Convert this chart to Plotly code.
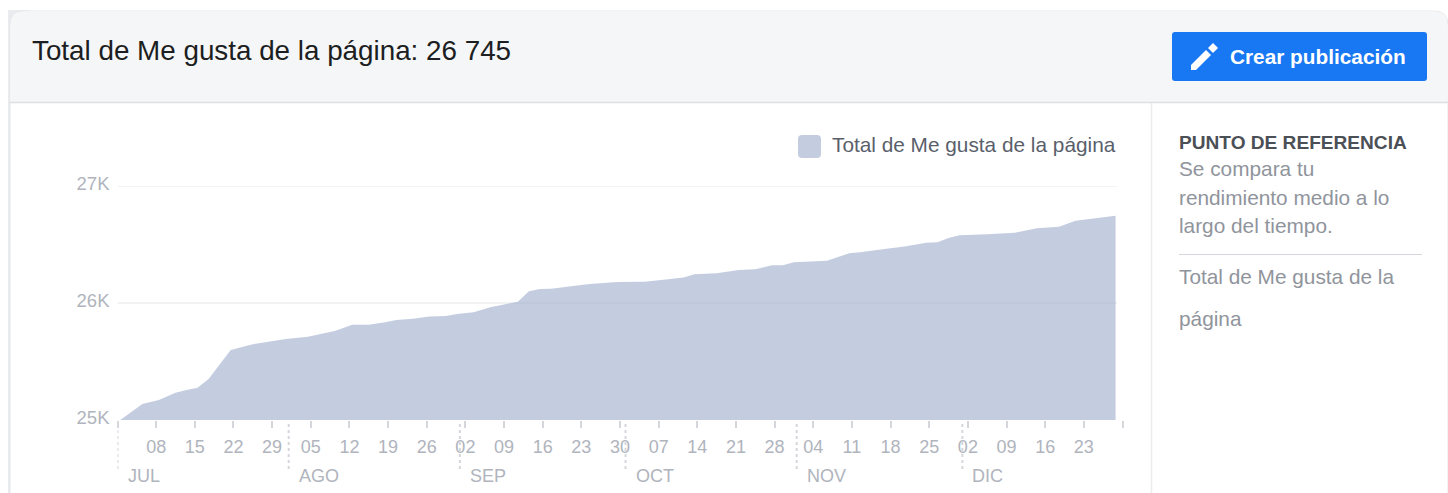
import plotly.graph_objects as go

W, H = 1448, 493

# ---- data ----
dates = ["2019-07-01","2019-07-05","2019-07-08","2019-07-10","2019-07-11","2019-07-13","2019-07-15","2019-07-17",
         "2019-07-21","2019-07-25","2019-07-31","2019-08-04","2019-08-06","2019-08-09","2019-08-10","2019-08-12",
         "2019-08-15","2019-08-18","2019-08-20","2019-08-23","2019-08-26","2019-08-29","2019-08-31","2019-09-02",
         "2019-09-03","2019-09-06","2019-09-09","2019-09-11","2019-09-13","2019-09-15","2019-09-17","2019-09-21",
         "2019-09-24","2019-09-29","2019-10-04","2019-10-09","2019-10-11","2019-10-13","2019-10-17","2019-10-21",
         "2019-10-24","2019-10-27","2019-10-29","2019-10-31","2019-11-06","2019-11-10","2019-11-12","2019-11-15",
         "2019-11-20","2019-11-24","2019-11-26","2019-11-28","2019-11-30","2019-12-05","2019-12-10","2019-12-14",
         "2019-12-18","2019-12-21","2019-12-24","2019-12-28 18:00"]
likes = [25000,25137,25171,25216,25233,25256,25276,25350,
         25598,25647,25692,25712,25732,25763,25780,25815,
         25815,25835,25855,25866,25884,25889,25906,25912,
         25920,25963,25994,26011,26100,26120,26122,26148,
         26162,26179,26182,26208,26219,26245,26254,26282,
         26288,26322,26322,26348,26362,26425,26433,26453,
         26482,26516,26519,26556,26578,26587,26601,26638,
         26652,26703,26720,26745]
week_ticks = ["2019-07-01","2019-07-08","2019-07-15","2019-07-22","2019-07-29","2019-08-05","2019-08-12","2019-08-19",
              "2019-08-26","2019-09-02","2019-09-09","2019-09-16","2019-09-23","2019-09-30","2019-10-07","2019-10-14",
              "2019-10-21","2019-10-28","2019-11-04","2019-11-11","2019-11-18","2019-11-25","2019-12-02","2019-12-09",
              "2019-12-16","2019-12-23","2019-12-30"]
week_labels = ["","08","15","22","29","05","12","19","26","02","09","16","23","30","07","14","21","28","04","11","18","25","02","09","16","23",""]
month_starts = ["2019-07-01","2019-08-01","2019-09-01","2019-10-01","2019-11-01","2019-12-01"]
month_labels = ["JUL","AGO","SEP","OCT","NOV","DIC"]
y_ticks = [25000,26000,27000]
y_labels = ["25K","26K","27K"]
series_name = "Total de Me gusta de la página"

FONT = "Liberation Sans, Arial, sans-serif"
GREY = "#b0b4bd"

def px(x): return x / W
def py(y): return 1 - y / H

def rounded(x0, y0, x1, y1, tl=0, tr=0, br=0, bl=0):
    P = lambda a, b: f"{px(a):.5f},{py(b):.5f}"
    return (f"M {P(x0, y0+tl)} Q {P(x0, y0)} {P(x0+tl, y0)} L {P(x1-tr, y0)} Q {P(x1, y0)} {P(x1, y0+tr)} "
            f"L {P(x1, y1-br)} Q {P(x1, y1)} {P(x1-br, y1)} L {P(x0+bl, y1)} Q {P(x0, y1)} {P(x0, y1-bl)} Z")

def poly(points):
    return "M " + " L ".join(f"{px(a):.5f},{py(b):.5f}" for a, b in points) + " Z"

def panel(path, fill, line=None, layer="below"):
    return dict(type="path", xref="paper", yref="paper", layer=layer, path=path, fillcolor=fill,
                line=line or dict(width=0))

fig = go.Figure()
# daily readings sit mid-day on the date axis
x_values = [d if " " in d else d + " 12:00" for d in dates]
fig.add_trace(go.Scatter(x=x_values, y=likes, mode="lines", name=series_name, fill="tozeroy",
                         line=dict(width=0, color="#c4cde0"), fillcolor="rgba(137,155,193,0.5)",
                         showlegend=False, hoverinfo="x+y"))

shapes = [
    panel(rounded(8, 10, 30, 500), "#eaebee"),
    panel(rounded(10, 11, 1448, 497, tl=14, tr=14), "#ffffff", dict(color="#e6e7ea", width=1)),
    panel(rounded(10.5, 11.5, 1447.5, 102, tl=14, tr=14), "#f5f6f7"),
    dict(type="line", xref="paper", yref="paper", x0=px(10), x1=px(1448), y0=py(102.5), y1=py(102.5), line=dict(color="#dfe0e4", width=1.5), layer="below"),
    dict(type="line", xref="paper", yref="paper", x0=px(1151.5), x1=px(1151.5), y0=py(103), y1=0, line=dict(color="#ebecef", width=1.5), layer="below"),
    dict(type="line", xref="paper", yref="paper", x0=px(1179), x1=px(1422), y0=py(254.5), y1=py(254.5), line=dict(color="#d3d6db", width=1.2), layer="below"),
    panel(rounded(1172, 32, 1427, 81, tl=3, tr=3, br=3, bl=3), "#1877f2"),
    panel(poly([(1191,65),(1191,70),(1196,70),(1211,55),(1206,50)]), "#ffffff", layer="above"),
    panel(poly([(1208,48),(1213,53),(1218,48),(1213,43)]), "#ffffff", layer="above"),
    panel(rounded(798, 135, 821, 158, tl=4, tr=4, br=4, bl=4), "#c4cde0"),
]
for v in y_ticks[1:]:
    shapes.append(dict(type="line", xref="x", yref="y", x0=month_starts[0], x1="2019-12-29", y0=v, y1=v,
                       line=dict(color="#e6e8ec", width=1.2), layer="below"))
for m in month_starts:
    shapes.append(dict(type="line", xref="x", yref="paper", x0=m, x1=m, y0=py(424), y1=py(470),
                       line=dict(color="#d5d7dc", width=2, dash="3px,3px"), layer="above"))

ann = []
def text(x, y, s, size, color, bold=False):
    ann.append(dict(xref="paper", yref="paper", x=px(x - 2), y=py(y), text=f"<b>{s}</b>" if bold else s, showarrow=False,
                    xanchor="left", yanchor="middle", align="left", font=dict(family=FONT, size=size, color=color)))
text(32, 50, "Total de Me gusta de la página: 26 745", 27.8, "#1c1e21")
text(1230, 57, "Crear publicación", 20.8, "#ffffff", bold=True)
text(832, 144, series_name, 20.8, "#5a5f6b")
text(1179, 142, "PUNTO DE REFERENCIA", 19.1, "#4b4f56", bold=True)
text(1179, 169, "Se compara tu", 20.8, "#90949c")
text(1179, 197, "rendimiento medio a lo", 20.8, "#90949c")
text(1179, 225, "largo del tiempo.", 20.8, "#90949c")
text(1179, 276, "Total de Me gusta de la", 20.8, "#90949c")
text(1179, 318, "página", 20.8, "#90949c")
for m, lab in zip(month_starts, month_labels):
    ann.append(dict(xref="x", yref="paper", x=m, y=py(476), xshift=8, text=lab, showarrow=False, xanchor="left",
                    yanchor="middle", font=dict(family=FONT, size=18, color=GREY)))

fig.update_layout(
    template=None,
    width=W, height=H, autosize=False, margin=dict(l=0, r=0, t=0, b=0, pad=0),
    paper_bgcolor="#ffffff", plot_bgcolor="rgba(0,0,0,0)", showlegend=False,
    shapes=shapes, annotations=ann,
    xaxis=dict(domain=[px(117.5), px(1122.5)], range=["2019-07-01", "2019-12-30"], type="date", automargin=False,
               tickmode="array", tickvals=week_ticks, ticktext=week_labels, ticks="outside", ticklen=7,
               tickcolor="#d5d7dc", tickwidth=2, tickfont=dict(family=FONT, size=18, color=GREY),
               showgrid=False, zeroline=False, showline=False, ticklabelstandoff=3),
    yaxis=dict(domain=[py(420), py(186)], range=[25000, 27000], automargin=False, tickmode="array", tickvals=y_ticks, ticktext=y_labels,
               tickfont=dict(family=FONT, size=18.5, color=GREY), showgrid=False,
               zeroline=False, showline=False, ticks="", ticklabelstandoff=7, ticklabelshift=-2),
)
fig.write_html("out.html", config=dict(displayModeBar=False),
               post_script="document.body.style.margin='0';document.body.style.overflow='hidden';")
